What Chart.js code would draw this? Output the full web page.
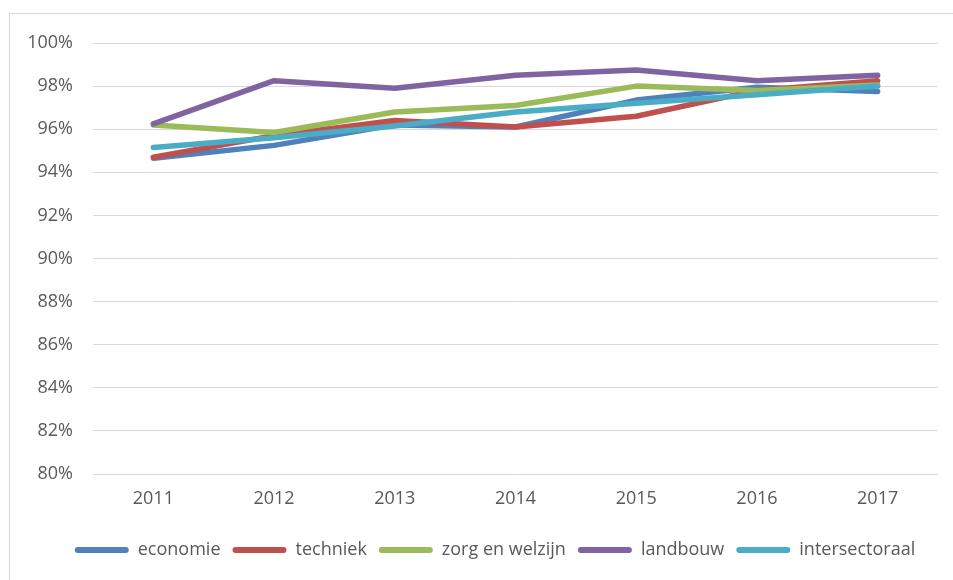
<!DOCTYPE html>
<html>
<head>
<meta charset="utf-8">
<script src="https://cdn.jsdelivr.net/npm/chart.js@4"></script>
<style>
html,body{margin:0;padding:0;background:#fff;width:953px;height:580px;overflow:hidden;}
#frame{position:absolute;left:9px;top:13px;width:980px;height:600px;border:1px solid #d9d9d9;box-sizing:border-box;}
#wrap{position:absolute;left:0;top:0;width:953px;height:580px;}
</style>
</head>
<body>
<div id="frame"></div>
<div id="wrap"><canvas id="c" width="953" height="580"></canvas></div>
<script>
const years = ['2011','2012','2013','2014','2015','2016','2017'];
const economie = [94.65, 95.25, 96.2, 96.1, 97.35, 97.95, 97.75];
const techniek = [94.7, 95.7, 96.4, 96.1, 96.6, 97.8, 98.25];
const zorgEnWelzijn = [96.2, 95.85, 96.8, 97.1, 98.0, 97.8, 98.05];
const landbouw = [96.25, 98.25, 97.9, 98.5, 98.75, 98.25, 98.5];
const intersectoraal = [95.15, 95.6, 96.15, 96.8, 97.2, 97.6, 98.0];
const seriesNames = ['economie','techniek','zorg en welzijn','landbouw','intersectoraal'];
const seriesColors = ['#4F81BD','#C0504D','#9BBB59','#8064A2','#4BACC6'];
const seriesValues = [economie, techniek, zorgEnWelzijn, landbouw, intersectoraal];
const yMin = 80, yMax = 100, yStep = 2;

const font = {family: "'Open Sans', sans-serif", size: 18};
const textColor = '#595959';

const datasets = seriesNames.map((n, i) => ({
  label: n,
  data: seriesValues[i],
  borderColor: seriesColors[i],
  backgroundColor: seriesColors[i],
  borderWidth: 5.5,
  borderCapStyle: 'round',
  borderJoinStyle: 'round',
  pointRadius: 0,
  tension: 0,
  order: seriesNames.length - i
}));

const legendShift = {
  id: 'legendShift',
  afterLayout(chart) {
    if (chart.legend) { chart.legend.left += 26; chart.legend.right += 26; }
  }
};

new Chart(document.getElementById('c'), {
  type: 'line',
  data: {labels: years, datasets},
  plugins: [legendShift],
  options: {
    responsive: false,
    animation: false,
    layout: {padding: {top: 43, right: 15, left: 0, bottom: 11}},
    plugins: {
      tooltip: {enabled: false},
      legend: {
        position: 'bottom',
        labels: {
          font: font,
          color: textColor,
          boxWidth: 54,
          boxHeight: 6,
          useBorderRadius: true,
          borderRadius: 3,
          padding: 12,
          generateLabels: (chart) => chart.data.datasets.map((d, i) => ({
            text: d.label,
            fillStyle: d.borderColor,
            strokeStyle: d.borderColor,
            lineWidth: 0,
            hidden: false,
            datasetIndex: i,
            fontColor: textColor,
            borderRadius: 3
          }))
        }
      }
    },
    scales: {
      x: {
        offset: true,
        grid: {display: false},
        border: {display: false},
        ticks: {font: font, color: textColor, padding: 6, maxRotation: 0},
        afterFit: (s) => { s.height = 55; }
      },
      y: {
        min: yMin, max: yMax,
        grid: {color: '#d9d9d9', lineWidth: 1, drawTicks: false},
        border: {display: false},
        ticks: {stepSize: yStep, font: font, color: textColor, padding: 20,
          callback: (v) => v + '%'},
        afterFit: (s) => { s.width = 93; }
      }
    }
  }
});
</script>
</body>
</html>
